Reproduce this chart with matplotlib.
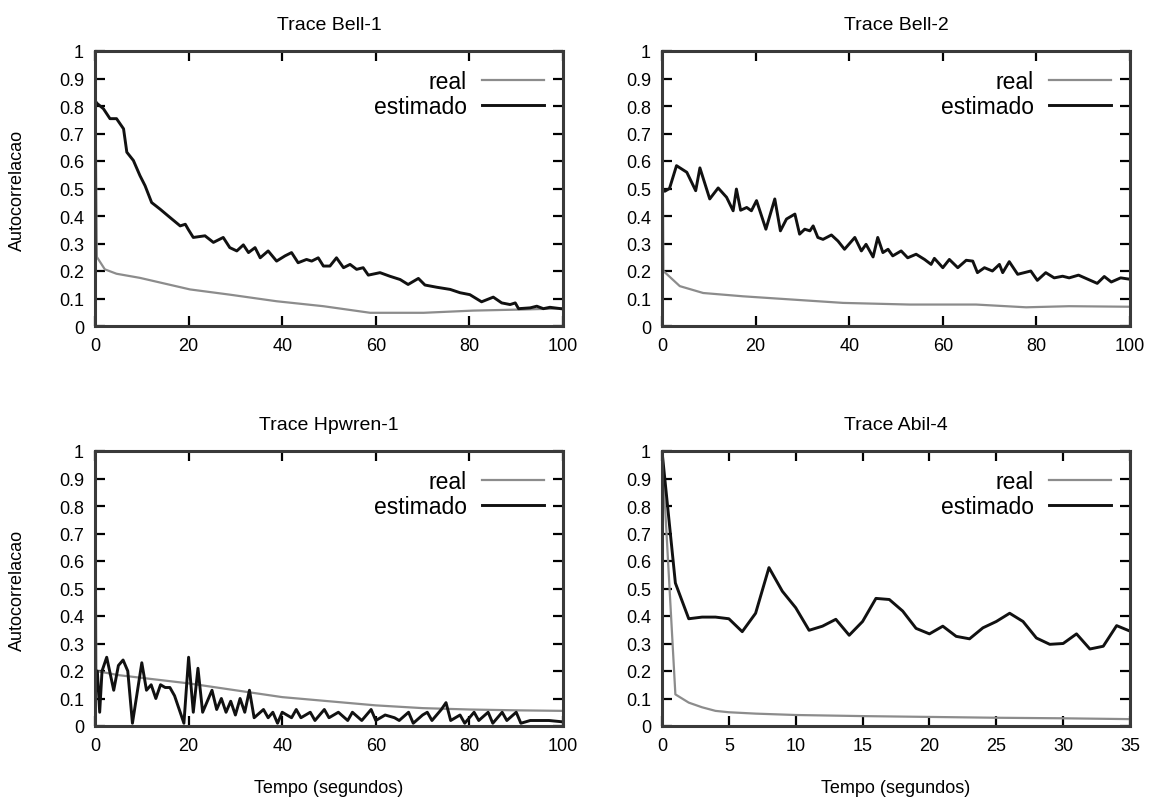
import matplotlib.pyplot as plt

plt.rcParams['font.family'] = ['Liberation Sans', 'DejaVu Sans']

# ---- data ----
# Trace Bell-1
bell1_real_t = [0, 0.4, 2.1, 4.6, 9.6, 20.3, 28.8, 38.8, 48.8, 58.8, 70.2, 80.8, 91.5, 100]
bell1_real_v = [1.0, 0.251, 0.206, 0.19, 0.175, 0.133, 0.114, 0.09, 0.072, 0.048, 0.048, 0.056, 0.06, 0.064]
bell1_est_t = [0, 0.4, 1.8, 3.2, 4.6, 6.1, 6.8, 8.2, 9.6, 10.7,
               12.1, 13.9, 16.0, 18.2, 19.3, 19.9, 21.0, 23.5, 25.3, 27.4,
               28.8, 30.3, 31.7, 32.8, 34.2, 35.3, 37.0, 38.8, 40.6, 42.0,
               43.4, 45.2, 46.3, 47.7, 48.8, 50.2, 51.6, 53.1, 54.5, 55.9,
               57.3, 58.4, 60.9, 63.0, 65.2, 66.9, 69.1, 70.5, 73.0, 75.9,
               78.0, 80.1, 82.6, 85.1, 86.9, 88.7, 89.8, 90.5, 93.0, 94.4,
               95.8, 97.2, 100]
bell1_est_v = [0.82, 0.81, 0.79, 0.754, 0.754, 0.717, 0.632, 0.602, 0.547, 0.51,
               0.449, 0.425, 0.395, 0.364, 0.37, 0.352, 0.322, 0.328, 0.304, 0.322,
               0.285, 0.273, 0.295, 0.267, 0.285, 0.248, 0.273, 0.236, 0.255, 0.267,
               0.23, 0.242, 0.236, 0.248, 0.218, 0.218, 0.248, 0.212, 0.224, 0.206,
               0.212, 0.185, 0.194, 0.181, 0.169, 0.151, 0.173, 0.149, 0.141, 0.133,
               0.121, 0.114, 0.088, 0.105, 0.084, 0.078, 0.084, 0.063, 0.066, 0.072,
               0.063, 0.068, 0.062]

# Trace Bell-2
bell2_real_t = [0, 0.3, 3.8, 8.8, 17.3, 24.4, 38.7, 52.9, 67.1, 77.8, 87.0, 100]
bell2_real_v = [1.0, 0.20, 0.145, 0.12, 0.108, 0.10, 0.084, 0.078, 0.078, 0.068, 0.072, 0.07]
bell2_est_t = [0, 0.6, 1.6, 3.1, 5.3, 7.2, 8.1, 10.2, 12.0, 13.8,
               15.2, 15.9, 16.8, 18.1, 19.1, 20.2, 22.2, 24.1, 25.3, 26.6,
               28.4, 29.4, 30.5, 31.6, 32.3, 33.3, 34.4, 36.2, 37.6, 39.0,
               41.2, 42.6, 43.6, 45.1, 46.1, 47.2, 48.3, 49.3, 51.1, 52.5,
               54.3, 56.1, 57.5, 58.2, 60.0, 61.4, 63.2, 65.0, 66.4, 67.4,
               68.9, 70.6, 72.1, 72.8, 74.2, 76.0, 77.4, 78.8, 80.2, 82.0,
               83.8, 85.6, 87.0, 89.0, 91.0, 93.0, 94.5, 96.0, 98.0, 100]
bell2_est_v = [0.50, 0.49, 0.50, 0.583, 0.559, 0.492, 0.575, 0.462, 0.502, 0.468,
               0.419, 0.498, 0.421, 0.431, 0.419, 0.456, 0.352, 0.462, 0.346, 0.389,
               0.407, 0.334, 0.352, 0.346, 0.364, 0.322, 0.315, 0.331, 0.309, 0.279,
               0.322, 0.273, 0.297, 0.251, 0.322, 0.267, 0.279, 0.255, 0.273, 0.248,
               0.261, 0.242, 0.224, 0.246, 0.212, 0.242, 0.212, 0.239, 0.236, 0.194,
               0.212, 0.20, 0.224, 0.194, 0.234, 0.188, 0.194, 0.20, 0.166, 0.194,
               0.175, 0.181, 0.175, 0.185, 0.17, 0.155, 0.18, 0.16, 0.175, 0.17]

# Trace Hpwren-1
hpw_real_t = [0, 0.3, 5, 10, 20, 30, 40, 50, 60, 70, 80, 90, 100]
hpw_real_v = [1.0, 0.2, 0.185, 0.175, 0.155, 0.13, 0.105, 0.09, 0.075, 0.065, 0.06, 0.057, 0.055]
hpw_est_t = [0, 0.5, 1, 1.5, 2.5, 4, 5, 6, 7, 8,
             10, 11, 12, 13, 14, 15, 16, 17, 19, 20,
             21, 22, 23, 25, 26, 27, 28, 29, 30, 31,
             32, 33, 34, 36, 37, 38, 39, 40, 42, 43,
             44, 46, 47, 49, 50, 52, 54, 55, 57, 59,
             60, 62, 64, 65, 67, 68, 70, 71, 72, 74,
             75, 76, 78, 79, 81, 82, 84, 85, 87, 88,
             90, 91, 93, 95, 97, 100]
hpw_est_v = [0.1, 0.2, 0.05, 0.2, 0.25, 0.13, 0.22, 0.24, 0.2, 0.01,
             0.23, 0.13, 0.15, 0.1, 0.15, 0.14, 0.14, 0.11, 0.01, 0.25,
             0.05, 0.21, 0.05, 0.13, 0.06, 0.1, 0.05, 0.09, 0.04, 0.1,
             0.05, 0.13, 0.03, 0.06, 0.03, 0.05, 0.01, 0.05, 0.03, 0.06,
             0.03, 0.05, 0.02, 0.06, 0.03, 0.05, 0.02, 0.05, 0.02, 0.06,
             0.02, 0.04, 0.03, 0.02, 0.05, 0.01, 0.04, 0.05, 0.02, 0.06,
             0.085, 0.02, 0.04, 0.01, 0.05, 0.02, 0.05, 0.01, 0.05, 0.02,
             0.05, 0.01, 0.02, 0.02, 0.02, 0.015]

# Trace Abil-4
abil_real_t = [0, 1, 2, 3, 4, 5, 7, 10, 15, 20, 25, 30, 35]
abil_real_v = [1.0, 0.115, 0.085, 0.068, 0.055, 0.05, 0.045, 0.04, 0.036, 0.033, 0.03, 0.028, 0.025]
abil_est_t = [0, 1, 2, 3, 4, 5, 6, 7, 8, 9, 10, 11, 12, 13, 14, 15, 16, 17,
              18, 19, 20, 21, 22, 23, 24, 25, 26, 27, 28, 29, 30, 31, 32, 33, 34, 35]
abil_est_v = [1.0, 0.52, 0.39, 0.396, 0.396, 0.39, 0.343, 0.41, 0.576, 0.49,
              0.43, 0.348, 0.363, 0.388, 0.33, 0.38, 0.464, 0.46, 0.418, 0.355,
              0.335, 0.363, 0.326, 0.317, 0.357, 0.38, 0.41, 0.38, 0.32, 0.297,
              0.30, 0.335, 0.28, 0.29, 0.365, 0.345]

y_ticks = [0, 0.1, 0.2, 0.3, 0.4, 0.5, 0.6, 0.7, 0.8, 0.9, 1]
y_tick_labels = ['0', '0.1', '0.2', '0.3', '0.4', '0.5', '0.6', '0.7', '0.8', '0.9', '1']
x_ticks_100 = [0, 20, 40, 60, 80, 100]
x_ticks_35 = [0, 5, 10, 15, 20, 25, 30, 35]

REAL_COLOR = '#8c8c8c'
EST_COLOR = '#111111'
W, H = 1165, 803


def draw_panel(rect, title, real_t, real_v, est_t, est_v, xmax, xticks):
    ax = fig.add_axes(rect)
    ax.plot(real_t, real_v, color=REAL_COLOR, linewidth=1.6, label='real')
    ax.plot(est_t, est_v, color=EST_COLOR, linewidth=2.1, label='estimado')
    ax.set_xlim(0, xmax)
    ax.set_ylim(0, 1)
    ax.set_xticks(xticks)
    ax.set_yticks(y_ticks)
    ax.set_yticklabels(y_tick_labels)
    ax.tick_params(direction='in', length=7, width=1.6, top=True, right=True,
                   labelsize=13, pad=8)
    for sp in ax.spines.values():
        sp.set_linewidth(2.2)
        sp.set_color('#3a3a3a')
    ax.set_title(title, fontsize=14, pad=16)
    ax.legend(loc='upper right', frameon=False, markerfirst=False, fontsize=16.5,
              handlelength=2.7, handletextpad=0.65, labelspacing=0.05,
              borderaxespad=0.45)
    return ax


fig = plt.figure(figsize=(W / 100, H / 100), dpi=100)

left_x, right_x, ax_w = 95 / W, 662 / W, 468 / W
top_y, bot_y, ax_h = 1 - 327 / H, 1 - 727 / H, 275 / H

draw_panel([left_x, top_y, ax_w, ax_h], 'Trace Bell-1',
           bell1_real_t, bell1_real_v, bell1_est_t, bell1_est_v, 100, x_ticks_100)
draw_panel([right_x, top_y, ax_w, ax_h], 'Trace Bell-2',
           bell2_real_t, bell2_real_v, bell2_est_t, bell2_est_v, 100, x_ticks_100)
draw_panel([left_x, bot_y, ax_w, ax_h], 'Trace Hpwren-1',
           hpw_real_t, hpw_real_v, hpw_est_t, hpw_est_v, 100, x_ticks_100)
draw_panel([right_x, bot_y, ax_w, ax_h], 'Trace Abil-4',
           abil_real_t, abil_real_v, abil_est_t, abil_est_v, 35, x_ticks_35)

# axis labels placed like the gnuplot output
for yc in (190, 590):
    fig.text(17 / W, 1 - yc / H, 'Autocorrelacao', rotation=90,
             ha='center', va='center', fontsize=13)
for xc in (329, 896):
    fig.text(xc / W, 1 - 789 / H, 'Tempo (segundos)', ha='center', va='center',
             fontsize=13)

plt.savefig('out.png', dpi=100, facecolor='white')
